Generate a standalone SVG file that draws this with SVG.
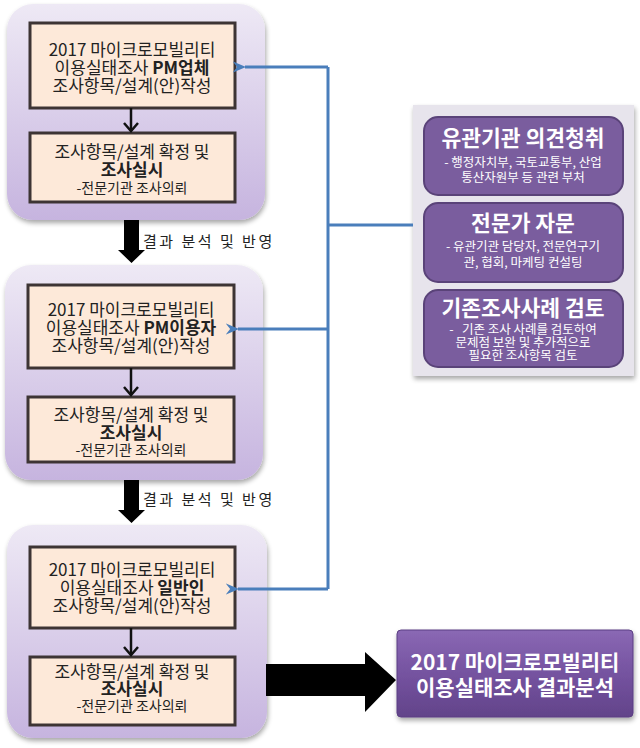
<svg xmlns="http://www.w3.org/2000/svg" width="640" height="748" viewBox="0 0 640 748">
<defs>
<linearGradient id="lav" x1="0" y1="0" x2="0" y2="1">
<stop offset="0" stop-color="#eee9f5"/>
<stop offset="1" stop-color="#c6b4df"/>
</linearGradient>
<linearGradient id="res" x1="0" y1="0" x2="0" y2="1">
<stop offset="0" stop-color="#8a68b4"/>
<stop offset="0.5" stop-color="#7553a0"/>
<stop offset="1" stop-color="#62438a"/>
</linearGradient>
<filter id="sh" x="-10%" y="-10%" width="125%" height="125%">
<feGaussianBlur in="SourceAlpha" stdDeviation="2.5"/>
<feOffset dx="1" dy="3" result="b"/>
<feComponentTransfer><feFuncA type="linear" slope="0.35"/></feComponentTransfer>
<feMerge><feMergeNode/><feMergeNode in="SourceGraphic"/></feMerge>
</filter>
<marker id="bh" viewBox="0 0 12 10" refX="1" refY="5" markerWidth="4.5" markerHeight="4.5" orient="auto-start-reverse" markerUnits="strokeWidth">
<path d="M12,0 L0,5 L12,10 L8,5 Z" fill="#4a7ebb"/>
</marker>
<style>
text{font-family:"Noto Sans CJK KR","Noto Sans",sans-serif;}
.cont{fill:url(#lav);}
.box{fill:#fde9d9;stroke:#3d3434;stroke-width:3;}
.t{font-size:17px;fill:#222;text-anchor:middle;}
.s{font-size:14px;fill:#222;text-anchor:middle;}
.b{font-weight:bold;}
.lbl{font-size:15px;fill:#222;letter-spacing:2.5px;}
.pb{fill:#7a5d9e;stroke:#5a4379;stroke-width:2;}
.pt{font-size:21.5px;font-weight:bold;fill:#fff;text-anchor:middle;}
.ps{font-size:12.5px;fill:#fff;text-anchor:middle;}
.blue{fill:none;stroke:#4a7ebb;stroke-width:3;}
.blk{fill:none;stroke:#111;stroke-width:2.5;}
</style>
</defs>
<rect width="640" height="748" fill="#ffffff"/>

<g id="group1">
<rect class="cont" x="7" y="4" width="258" height="216" rx="26" filter="url(#sh)"/>
<g id="g1a">
<rect class="box" x="30" y="23" width="205" height="85"/>
<text class="t" x="132" y="56">2017 마이크로모빌리티</text>
<text class="t" x="132" y="74">이용실태조사 <tspan class="b">PM업체</tspan></text>
<text class="t" x="132" y="92">조사항목/설계(안)작성</text>
</g>
<g id="g1b">
<rect class="box" x="30" y="133" width="205" height="69"/>
<text class="t" x="132" y="158">조사항목/설계 확정 및</text>
<text class="t b" x="132" y="176">조사실시</text>
<text class="s" x="132" y="193">-전문기관 조사의뢰</text>
</g>
</g>

<g id="group2">
<rect class="cont" x="5" y="265" width="258" height="215" rx="26" filter="url(#sh)"/>
<g id="g2a">
<rect class="box" x="28" y="285" width="206" height="83"/>
<text class="t" x="131" y="316">2017 마이크로모빌리티</text>
<text class="t" x="131" y="334">이용실태조사 <tspan class="b">PM이용자</tspan></text>
<text class="t" x="131" y="352">조사항목/설계(안)작성</text>
</g>
<g id="g2b">
<rect class="box" x="28" y="397" width="206" height="65"/>
<text class="t" x="131" y="421">조사항목/설계 확정 및</text>
<text class="t b" x="131" y="439">조사실시</text>
<text class="s" x="131" y="455">-전문기관 조사의뢰</text>
</g>
</g>

<g id="group3">
<rect class="cont" x="7" y="525" width="260" height="213" rx="26" filter="url(#sh)"/>
<g id="g3a">
<rect class="box" x="30" y="547" width="205" height="81"/>
<text class="t" x="132" y="576">2017 마이크로모빌리티</text>
<text class="t" x="132" y="594">이용실태조사 <tspan class="b">일반인</tspan></text>
<text class="t" x="132" y="612">조사항목/설계(안)작성</text>
</g>
<g id="g3b">
<rect class="box" x="30" y="657" width="205" height="68"/>
<text class="t" x="132" y="678">조사항목/설계 확정 및</text>
<text class="t b" x="132" y="695">조사실시</text>
<text class="s" x="132" y="711">-전문기관 조사의뢰</text>
</g>
</g>

<g id="panel">
<rect x="413" y="105" width="221" height="271" fill="#e7e4ec" filter="url(#sh)"/>
<g id="p1">
<rect class="pb" x="424" y="117" width="199" height="78" rx="14"/>
<text class="pt" x="523" y="146">유관기관 의견청취</text>
<text class="ps" x="523" y="167">- 행정자치부, 국토교통부, 산업</text>
<text class="ps" x="523" y="182">통산자원부 등 관련 부처</text>
</g>
<g id="p2">
<rect class="pb" x="424" y="203" width="199" height="79" rx="14"/>
<text class="pt" x="523" y="231">전문가 자문</text>
<text class="ps" x="523" y="251">- 유관기관 담당자, 전문연구기</text>
<text class="ps" x="523" y="267">관, 협회, 마케팅 컨설팅</text>
</g>
<g id="p3">
<rect class="pb" x="424" y="290" width="199" height="77" rx="14"/>
<text class="pt" x="523" y="316">기존조사사례 검토</text>
<text class="ps" x="523" y="334" xml:space="preserve">-   기존 조사 사례를 검토하여</text>
<text class="ps" x="523" y="347">문제점 보완 및 추가적으로</text>
<text class="ps" x="523" y="360">필요한 조사항목 검토</text>
</g>
</g>

<g id="result">
<rect x="397" y="630" width="236" height="87" rx="4" fill="url(#res)" stroke="#5b3f83" stroke-width="1" filter="url(#sh)"/>
<text x="515" y="670" font-size="21" font-weight="bold" fill="#fff" text-anchor="middle">2017 마이크로모빌리티</text>
<text x="515" y="695" font-size="21" font-weight="bold" fill="#fff" text-anchor="middle">이용실태조사 결과분석</text>
</g>

<g id="connectors">
<path class="blk" d="M131,108 V131"/>
<path class="blk" d="M124,123 L131,131 L138,123"/>
<path class="blk" d="M131,368 V395"/>
<path class="blk" d="M124,387 L131,395 L138,387"/>
<path class="blk" d="M131,628 V655"/>
<path class="blk" d="M124,647 L131,655 L138,647"/>
<polygon points="124,220 139,220 139,250 145,250 131.5,263 118,250 124,250" fill="#000"/>
<polygon points="124,480 139,480 139,510 145,510 131.5,523 118,510 124,510" fill="#000"/>
<polygon points="266,664 365,664 365,652 396,680 365,712 365,696 266,696" fill="#000"/>
<text class="lbl" x="143" y="247">결과 분석 및 반영</text>
<text class="lbl" x="143" y="505">결과 분석 및 반영</text>
<path class="blue" d="M413,225 H328"/>
<path class="blue" d="M328,67 V589"/>
<path class="blue" d="M328,67 H245" marker-end="url(#bh)"/>
<path class="blue" d="M328,329 H238" marker-end="url(#bh)"/>
<path class="blue" d="M328,589 H238" marker-end="url(#bh)"/>
</g>
</svg>
